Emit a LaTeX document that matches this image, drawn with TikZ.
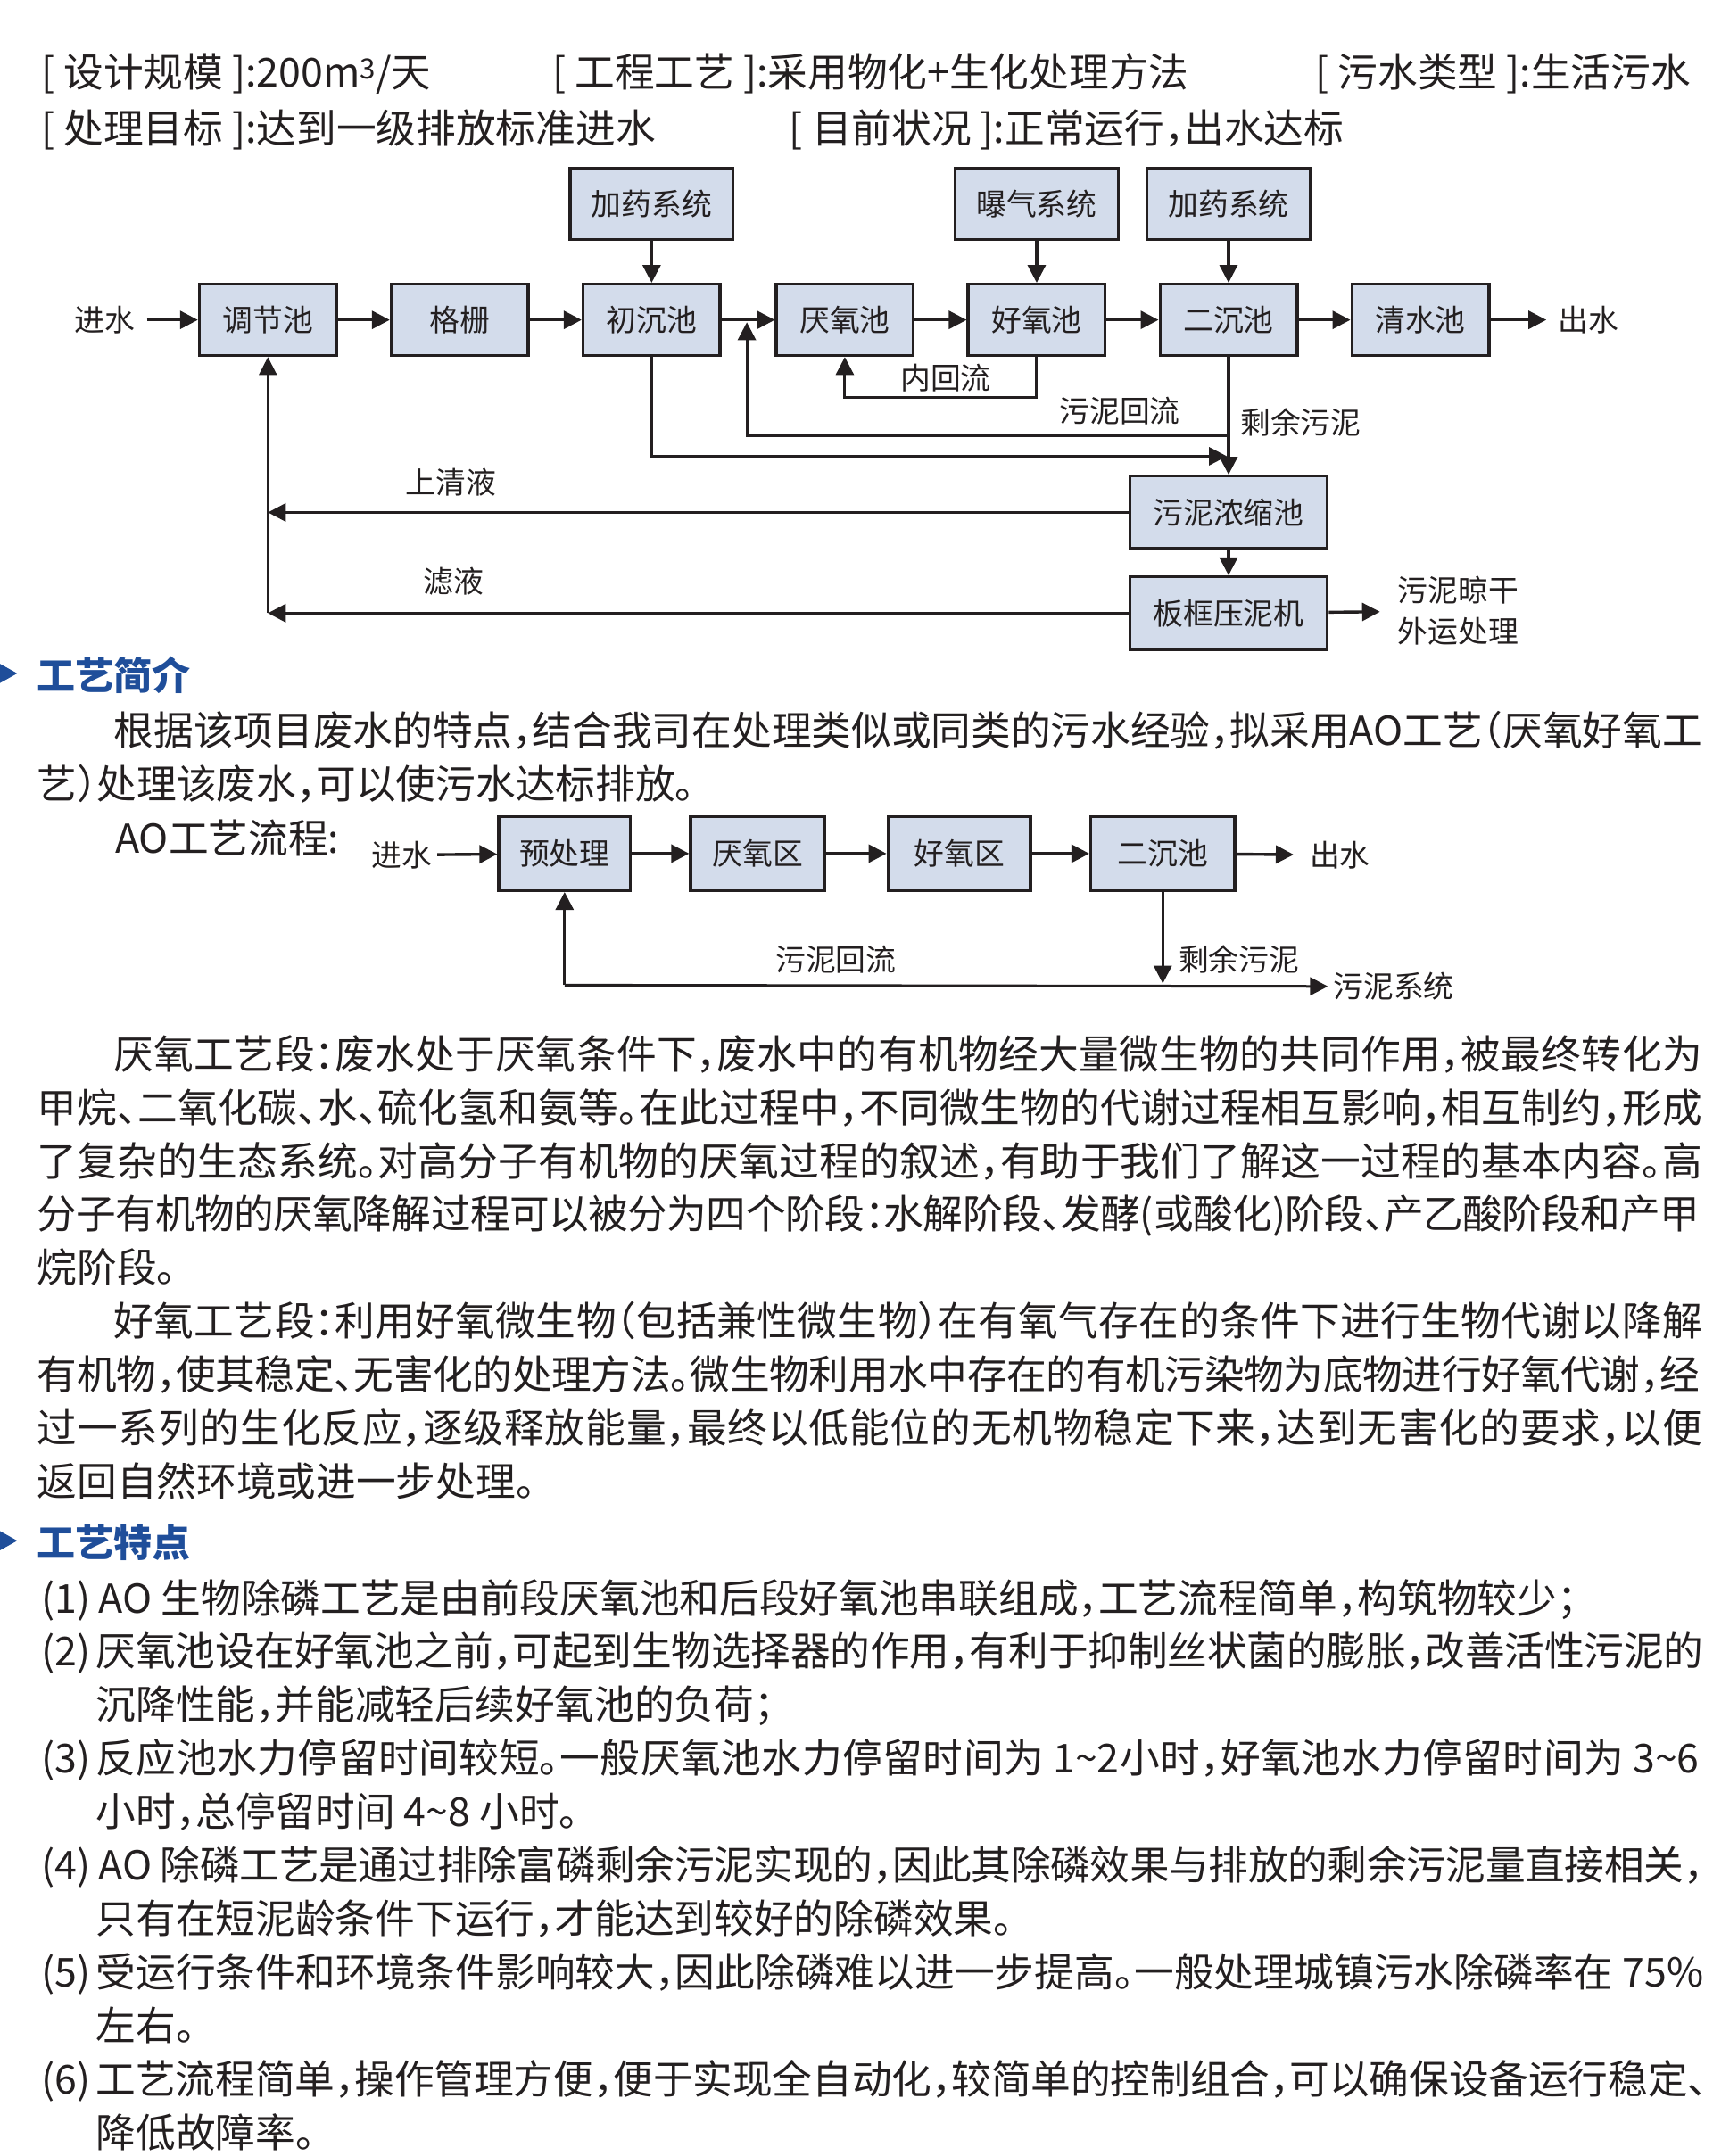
\documentclass[tikz,border=0pt]{standalone}
\usepackage{fontspec}
\setmainfont{Noto Sans CJK SC}[RawFeature=+halt]
\usetikzlibrary{arrows.meta}
\newdimen\U \U=1.536pt
\definecolor{boxfill}{RGB}{211,220,235}
\definecolor{ink}{RGB}{35,31,32}
\definecolor{hblue}{RGB}{31,78,154}
\newcommand\bodyf{\fontsize{44.7pt}{52pt}\selectfont}
\newcommand\labf{\fontsize{33.8pt}{46pt}\selectfont}
\newcommand\headf{\bfseries\fontsize{43pt}{50pt}\selectfont}
\newcommand\jset{\XeTeXlinebreaklocale "zh"\XeTeXlinebreakskip=0pt plus 8pt minus 2pt\XeTeXlinebreakpenalty=10000 \parfillskip=0pt\tolerance=10000 \hbadness=10000 \relax}
\newcommand\jl[5]{\node[txt] (#1) at (#2,#3) {\parbox[b]{#4\U}{\jset #5}};}
\begin{document}
\begin{tikzpicture}[x=1.536pt,y=-1.536pt,
  box/.style={draw=ink, fill=boxfill, line width=3.4pt, inner sep=0pt, font=\labf, text=ink},
  conn/.style={draw=ink, line width=3.4pt, -{Triangle[length=20pt,width=20pt]}},
  conntwo/.style={draw=ink, line width=3pt, -{Triangle[length=20pt,width=20pt]}},
  thinconn/.style={draw=ink, line width=2pt, -{Triangle[length=20pt,width=20pt]}},
  txt/.style={anchor=base west, inner sep=0pt, font=\bodyf, text=ink},
  lab/.style={inner sep=0pt, font=\labf, text=ink},
  flowlab/.style={inner ysep=0pt, inner xsep=13pt, font=\labf, text=ink},
  hd/.style={anchor=base west, inner sep=0pt, font=\headf, text=hblue}]
\useasboundingbox[fill=white] (0,0) rectangle (1250,1573.6);

% ---------- header ----------
\node[txt] (h1) at (30,63.5) {[ 设计规模 ]:200m\textsuperscript{3}/天};
\node[txt] (h2) at (403,63.5) {[ 工程工艺 ]:采用物化+生化处理方法};
\node[txt] (h3) at (960,63.5) {[ 污水类型 ]:生活污水};
\node[txt] (h4) at (30,104.5) {[ 处理目标 ]:达到一级排放标准进水};
\node[txt] (h5) at (576,104.5) {[ 目前状况 ]:正常运行，出水达标};

% ---------- main process diagram ----------
\node[box, minimum width={100*\U}, minimum height={52*\U}] (tjc) at (195.5,233.5) {调节池};
\node[box, minimum width={100*\U}, minimum height={52*\U}] (gs) at (335.5,233.5) {格栅};
\node[box, minimum width={100*\U}, minimum height={52*\U}] (ccc) at (475.5,233.5) {初沉池};
\node[box, minimum width={100*\U}, minimum height={52*\U}] (yyc) at (616.5,233.5) {厌氧池};
\node[box, minimum width={100*\U}, minimum height={52*\U}] (hyc) at (756.5,233.5) {好氧池};
\node[box, minimum width={100*\U}, minimum height={52*\U}] (ecc) at (896.5,233.5) {二沉池};
\node[box, minimum width={100*\U}, minimum height={52*\U}] (qsc) at (1036.5,233.5) {清水池};
\node[box, minimum width={119*\U}, minimum height={52*\U}] (jy1) at (475.5,149) {加药系统};
\node[box, minimum width={119*\U}, minimum height={52*\U}] (bq) at (756.5,149) {曝气系统};
\node[box, minimum width={119*\U}, minimum height={52*\U}] (jy2) at (896.5,149) {加药系统};
\node[box, minimum width={144*\U}, minimum height={53*\U}] (nsc) at (896.5,374) {污泥浓缩池};
\node[box, minimum width={144*\U}, minimum height={53*\U}] (bkj) at (896.5,447.5) {板框压泥机};

\node[flowlab] (jin) at (76.5,233.5) {进水};
\node[flowlab] (chu) at (1159,233.5) {出水};
\node[flowlab, align=left, anchor=west, inner xsep=20pt] (wngg) at (1007,446) {污泥晾干\\外运处理};

\draw[conn] (jin) -- (tjc);
\draw[conn] (tjc) -- (gs);
\draw[conn] (gs) -- (ccc);
\draw[conn] (ccc) -- (yyc);
\draw[conn] (yyc) -- (hyc);
\draw[conn] (hyc) -- (ecc);
\draw[conn] (ecc) -- (qsc);
\draw[conn] (qsc) -- (chu);
\draw[conn] (jy1) -- (ccc);
\draw[conn] (bq) -- (hyc);
\draw[conn] (jy2) -- (ecc);

% internal return
\coordinate (nh) at (756.5,290);
\draw[conntwo] (hyc.south) -- (nh) -| (yyc.south);
\node[lab, anchor=west] (nhl) at (657,276) {内回流};

% sludge return
\coordinate (r1) at (896.5,318);
\coordinate (r2) at (545,318);
\coordinate (r3) at (545,235.2);
\draw[conntwo] (r1) -- (r2) -- (r3);
\node[lab, anchor=west] (wnhl) at (773,300) {污泥回流};

% primary sludge
\coordinate (p1) at (475.5,333);
\coordinate (p2) at (895.3,333);
\draw[conntwo] (ccc.south) -- (p1) -- (p2);

% excess sludge
\draw[conn] (ecc) -- (nsc);
\node[lab, anchor=west] (syl) at (905,308) {剩余污泥};
\draw[conn] (nsc) -- (bkj);
\draw[conn] (bkj) -- (wngg);

% return to 调节池
\coordinate (v0) at (195.5,374);
\coordinate (v1) at (195.5,447.5);
\draw[conn] (nsc) -- (v0);
\draw[conn] (bkj) -- (v1);
\draw[thinconn] (v1) -- (tjc);
\node[lab, anchor=west] (sqy) at (296,352) {上清液};
\node[lab, anchor=west] (ly) at (309,424) {滤液};

% ---------- 工艺简介 ----------
\fill[hblue] (0,484.5) -- (12.6,491.5) -- (0,498.5) -- cycle;
\node[hd] (s1) at (27,503.6) {工艺简介};
\jl{p1a}{83}{544.1}{1159}{根据该项目废水的特点，结合我司在处理类似或同类的污水经验，拟采用AO工艺（厌氧好氧工}
\node[txt] (p1b) at (27,583.1) {艺）处理该废水，可以使污水达标排放。};

% ---------- AO flow ----------
\node[txt] (aol) at (84,622.8) {AO工艺流程:};
\node[box, minimum width={96*\U}, minimum height={54*\U}] (pre) at (412,623) {预处理};
\node[box, minimum width={98*\U}, minimum height={54*\U}] (yaq) at (553,623) {厌氧区};
\node[box, minimum width={104*\U}, minimum height={54*\U}] (haq) at (700,623) {好氧区};
\node[box, minimum width={105*\U}, minimum height={54*\U}] (ecb) at (848.5,623) {二沉池};
\node[flowlab, inner xsep=6pt] (jin2) at (293,624) {进水};
\node[flowlab, anchor=west, inner xsep=18pt] (chu2) at (944,624) {出水};
\draw[conn] (jin2) -- (pre);
\draw[conn] (pre) -- (yaq);
\draw[conn] (yaq) -- (haq);
\draw[conn] (haq) -- (ecb);
\draw[conn] (ecb) -- (chu2);
\coordinate (b1) at (412,719);
\coordinate (b2) at (848.5,717.8);
\node[flowlab, anchor=west, inner xsep=6pt] (sys) at (969,720) {污泥系统};
\draw[conntwo] (ecb.south) -- (b2);
\draw[conntwo] (b1) -- (sys);
\draw[conntwo] (b1) -- (pre.south);
\node[lab] (wnhl2) at (610,700) {污泥回流};
\node[lab, anchor=west] (syl2) at (860,700) {剩余污泥};

% ---------- 厌氧 ----------
\jl{p2a}{83}{780.1}{1159}{厌氧工艺段：废水处于厌氧条件下，废水中的有机物经大量微生物的共同作用，被最终转化为}
\jl{p2b}{27}{819.1}{1215}{甲烷、二氧化碳、水、硫化氢和氨等。在此过程中，不同微生物的代谢过程相互影响，相互制约，形成}
\jl{p2c}{27}{858.1}{1215}{了复杂的生态系统。对高分子有机物的厌氧过程的叙述，有助于我们了解这一过程的基本内容。高}
\jl{p2d}{27}{897.1}{1213}{分子有机物的厌氧降解过程可以被分为四个阶段：水解阶段、发酵(或酸化)阶段、产乙酸阶段和产甲}
\node[txt] (p2e) at (27,936.1) {烷阶段。};

% ---------- 好氧 ----------
\jl{p3a}{83}{975.1}{1159}{好氧工艺段：利用好氧微生物（包括兼性微生物）在有氧气存在的条件下进行生物代谢以降解}
\jl{p3b}{27}{1014.1}{1213}{有机物，使其稳定、无害化的处理方法。微生物利用水中存在的有机污染物为底物进行好氧代谢，经}
\jl{p3c}{27}{1053.1}{1215}{过一系列的生化反应，逐级释放能量，最终以低能位的无机物稳定下来，达到无害化的要求，以便}
\node[txt] (p3d) at (27,1092.1) {返回自然环境或进一步处理。};

% ---------- 工艺特点 ----------
\fill[hblue] (0,1117.5) -- (12.6,1124.5) -- (0,1131.5) -- cycle;
\node[hd] (s2) at (27,1136.6) {工艺特点};

\node[txt] (i1n) at (30,1177.1) {(1)};
\node[txt] (i1a) at (72,1177.1) {AO 生物除磷工艺是由前段厌氧池和后段好氧池串联组成，工艺流程简单，构筑物较少；};
\node[txt] (i2n) at (30,1216.1) {(2)};
\jl{i2a}{70}{1216.1}{1173}{厌氧池设在好氧池之前，可起到生物选择器的作用，有利于抑制丝状菌的膨胀，改善活性污泥的}
\node[txt] (i2b) at (70,1255.1) {沉降性能，并能减轻后续好氧池的负荷；};
\node[txt] (i3n) at (30,1294.1) {(3)};
\jl{i3a}{70}{1294.1}{1170}{反应池水力停留时间较短。一般厌氧池水力停留时间为 1\textasciitilde 2小时，好氧池水力停留时间为 3\textasciitilde 6}
\node[txt] (i3b) at (70,1333.1) {小时，总停留时间 4\textasciitilde 8 小时。};
\node[txt] (i4n) at (30,1372.1) {(4)};
\jl{i4a}{72}{1372.1}{1171}{AO 除磷工艺是通过排除富磷剩余污泥实现的，因此其除磷效果与排放的剩余污泥量直接相关，}
\node[txt] (i4b) at (70,1411.1) {只有在短泥龄条件下运行，才能达到较好的除磷效果。};
\node[txt] (i5n) at (30,1450.1) {(5)};
\jl{i5a}{70}{1450.1}{1173}{受运行条件和环境条件影响较大，因此除磷难以进一步提高。一般处理城镇污水除磷率在 75\%}
\node[txt] (i5b) at (70,1489.1) {左右。};
\node[txt] (i6n) at (30,1528.1) {(6)};
\jl{i6a}{70}{1528.1}{1176}{工艺流程简单，操作管理方便，便于实现全自动化，较简单的控制组合，可以确保设备运行稳定、}
\node[txt] (i6b) at (70,1567.1) {降低故障率。};
\end{tikzpicture}
\end{document}
